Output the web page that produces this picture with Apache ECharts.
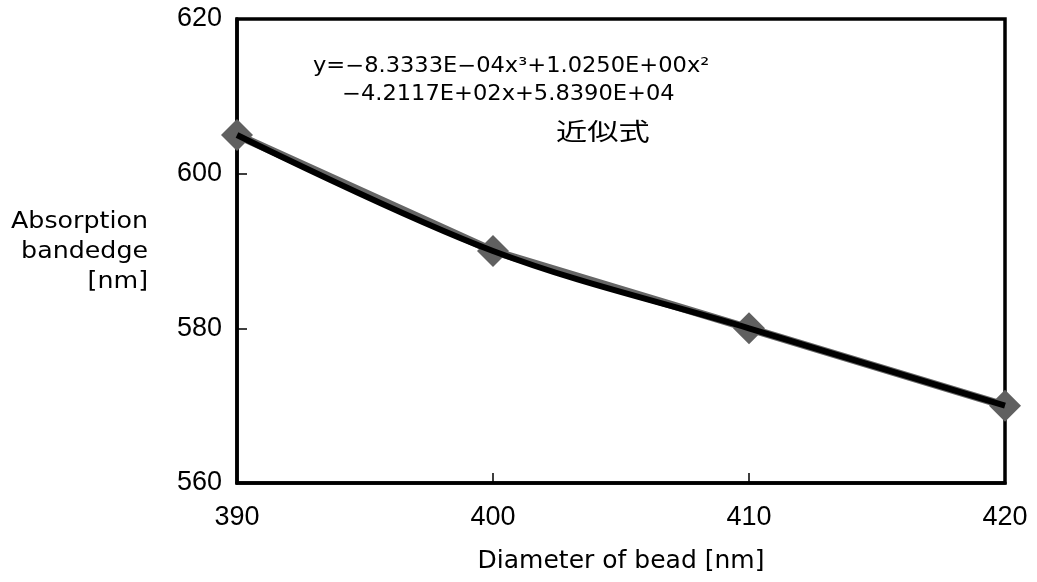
<!DOCTYPE html>
<html><head><meta charset="utf-8">
<script src="https://cdn.jsdelivr.net/npm/echarts@6/dist/echarts.min.js"></script>
<style>html,body{margin:0;padding:0;background:#fff}#c{width:1037px;height:582px}</style>
</head><body><div id="c"></div>
<script>
const diameters = [390, 400, 410, 420];
const bandedge = [605, 590, 580, 570];
const xTicks = [390, 400, 410, 420];
const yTicks = [560, 580, 600, 620];
const eqLine1 = 'y=−8.3333E−04x³+1.0250E+00x²';
const eqLine2 = '−4.2117E+02x+5.8390E+04';
const fitLabel = '近似式';
const yName = 'Absorption\nbandedge\n[nm]';
const xName = 'Diameter of bead [nm]';

const pts = diameters.map((d, i) => [d, bandedge[i]]);
const font = '"Liberation Sans", Arial, sans-serif';
const wfont = '"DejaVu Sans", sans-serif';
const jfont = '"Noto Sans CJK JP", sans-serif';

const chart = echarts.init(document.getElementById('c'), null, {renderer: 'canvas'});
chart.setOption({
  animation: false,
  backgroundColor: '#fff',
  grid: {left: 237, right: 32, top: 19, bottom: 99, show: true, borderColor: '#000', borderWidth: 3.5, backgroundColor: 'transparent'},
  xAxis: {
    type: 'value', min: xTicks[0], max: xTicks[xTicks.length - 1], interval: 10,
    axisLine: {show: true, lineStyle: {color: '#000', width: 3.5}},
    axisTick: {show: true, inside: true, length: 10, lineStyle: {color: '#000', width: 1.5}},
    splitLine: {show: false},
    axisLabel: {color: '#000', fontSize: 27, fontFamily: font, margin: 21},
    name: xName, nameLocation: 'middle', nameGap: 66,
    nameTextStyle: {color: '#000', fontSize: 25, fontFamily: wfont}
  },
  yAxis: {
    type: 'value', min: yTicks[0], max: yTicks[yTicks.length - 1], interval: 20,
    axisLine: {show: true, lineStyle: {color: '#000', width: 3.5}},
    axisTick: {show: true, inside: true, length: 10, lineStyle: {color: '#000', width: 1.5}},
    splitLine: {show: false},
    axisLabel: {color: '#000', fontSize: 27, fontFamily: font, margin: 15}
  },
  graphic: [
    {type: 'text', x: 148, y: 207, scaleX: 1.1, style: {text: yName, fill: '#000', fontSize: 23, fontFamily: wfont, align: 'right', verticalAlign: 'top', lineHeight: 30}},
    {type: 'text', x: 313, y: 56, scaleX: 1.1, style: {text: eqLine1, fill: '#000', fontSize: 20.5, fontFamily: wfont}},
    {type: 'text', x: 342, y: 84, scaleX: 1.1, style: {text: eqLine2, fill: '#000', fontSize: 20.5, fontFamily: wfont}},
    {type: 'text', x: 556, y: 119, scaleX: 1.3, style: {text: fitLabel, fill: '#000', fontSize: 24, fontFamily: jfont}}
  ],
  series: [
    {
      type: 'line', data: pts, clip: false, z: 2,
      lineStyle: {color: '#666', width: 8},
      symbol: 'diamond', symbolSize: 32, itemStyle: {color: '#606060'}
    },
    {
      type: 'line', data: pts, clip: false, smooth: 0.35, z: 3,
      lineStyle: {color: '#000', width: 6},
      symbol: 'none'
    }
  ]
});
</script></body></html>
